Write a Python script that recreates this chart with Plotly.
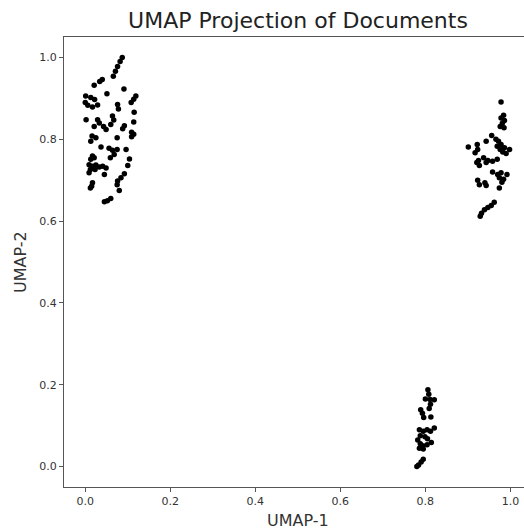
import plotly.graph_objects as go

# 2-D UMAP embedding of the document collection, one list pair per cluster
cluster_a_x = [0.087, 0.082, 0.076, 0.071, 0.066, 0.040, 0.034, 0.021, 0.091, 0.051,
               0.001, 0.013, 0.022, 0.000, 0.006, 0.017, 0.029, 0.119, 0.114, 0.108,
               0.076, 0.078, 0.115, 0.002, 0.029, 0.033, 0.064, 0.067, 0.060, 0.114,
               0.092, 0.043, 0.049, 0.088, 0.109, 0.114, 0.109, 0.016, 0.025, 0.013,
               0.075, 0.037, 0.056, 0.064, 0.075, 0.096, 0.017, 0.021, 0.013, 0.059,
               0.104, 0.009, 0.017, 0.025, 0.033, 0.041, 0.049, 0.012, 0.023, 0.100,
               0.045, 0.092, 0.084, 0.009, 0.076, 0.075, 0.017, 0.015, 0.012, 0.080,
               0.045, 0.052, 0.060, 0.068, 0.021]
cluster_a_y = [1.000, 0.990, 0.978, 0.966, 0.954, 0.946, 0.941, 0.932, 0.923, 0.911,
               0.906, 0.902, 0.897, 0.890, 0.883, 0.879, 0.884, 0.906, 0.898, 0.890,
               0.885, 0.874, 0.866, 0.848, 0.848, 0.840, 0.857, 0.847, 0.836, 0.842,
               0.833, 0.831, 0.824, 0.826, 0.817, 0.812, 0.806, 0.808, 0.804, 0.795,
               0.804, 0.781, 0.778, 0.773, 0.775, 0.775, 0.759, 0.755, 0.751, 0.755,
               0.752, 0.738, 0.734, 0.737, 0.732, 0.734, 0.730, 0.726, 0.726, 0.736,
               0.714, 0.716, 0.706, 0.718, 0.698, 0.689, 0.694, 0.685, 0.681, 0.675,
               0.647, 0.650, 0.655, 0.763, 0.831]

cluster_b_x = [0.978, 0.984, 0.978, 0.986, 0.981, 0.976, 0.985, 0.956, 0.943, 0.966,
               0.972, 0.978, 0.969, 0.986, 0.976, 0.982, 0.990, 0.998, 0.901, 0.922,
               0.923, 0.917, 0.937, 0.947, 0.958, 0.969, 0.925, 0.921, 0.927, 0.943,
               0.958, 0.970, 0.978, 0.992, 0.974, 0.984, 0.980, 0.923, 0.927, 0.940,
               0.943, 0.974, 0.962, 0.955, 0.947, 0.939, 0.932, 0.929]
cluster_b_y = [0.891, 0.859, 0.852, 0.846, 0.839, 0.831, 0.828, 0.809, 0.795, 0.800,
               0.795, 0.787, 0.783, 0.779, 0.775, 0.769, 0.765, 0.775, 0.781, 0.787,
               0.775, 0.767, 0.755, 0.748, 0.746, 0.751, 0.748, 0.743, 0.736, 0.743,
               0.720, 0.714, 0.718, 0.714, 0.706, 0.702, 0.695, 0.700, 0.689, 0.694,
               0.687, 0.681, 0.646, 0.638, 0.633, 0.628, 0.619, 0.612]

cluster_c_x = [0.806, 0.808, 0.800, 0.811, 0.821, 0.812, 0.809, 0.789, 0.793, 0.796,
               0.813, 0.786, 0.795, 0.804, 0.812, 0.821, 0.788, 0.799, 0.805, 0.782,
               0.788, 0.794, 0.804, 0.814, 0.786, 0.795, 0.795, 0.790, 0.784, 0.780]
cluster_c_y = [0.188, 0.177, 0.165, 0.164, 0.163, 0.152, 0.142, 0.139, 0.130, 0.120,
               0.121, 0.090, 0.086, 0.090, 0.086, 0.094, 0.075, 0.073, 0.068, 0.065,
               0.056, 0.051, 0.053, 0.059, 0.045, 0.043, 0.018, 0.011, 0.004, 0.000]

tick_vals = [0.0, 0.2, 0.4, 0.6, 0.8, 1.0]
tick_text = ["0.0", "0.2", "0.4", "0.6", "0.8", "1.0"]

FONT = "DejaVu Sans"
AXIS_COLOR = "#555555"
TEXT_COLOR = "#333333"

fig = go.Figure()
for xs, ys in [(cluster_a_x, cluster_a_y), (cluster_b_x, cluster_b_y), (cluster_c_x, cluster_c_y)]:
    fig.add_trace(go.Scatter(
        x=xs, y=ys, mode="markers",
        marker=dict(color="black", size=5.5, line=dict(width=0)),
        showlegend=False, hoverinfo="skip",
    ))

axis_common = dict(
    tickvals=tick_vals, ticktext=tick_text,
    ticks="outside", ticklen=4, tickwidth=1, tickcolor=AXIS_COLOR,
    showgrid=False, zeroline=False,
    showline=True, linecolor=AXIS_COLOR, linewidth=1,
    tickfont=dict(family=FONT, size=11, color=TEXT_COLOR),
)

fig.update_xaxes(range=[-0.05, 1.032], mirror=True, **axis_common)
fig.update_yaxes(range=[-0.05, 1.05], mirror=False, **axis_common)

fig.update_layout(
    width=524, height=531, autosize=False,
    margin=dict(l=64, r=0, t=37, b=44),
    plot_bgcolor="white", paper_bgcolor="white",
    title=dict(
        text="UMAP Projection of Documents",
        font=dict(family=FONT, size=22, color="#222222"),
        xref="container", x=298 / 524, xanchor="center",
        yref="container", y=1 - 20.5 / 531, yanchor="middle",
    ),
    annotations=[
        dict(text="UMAP-1", xref="paper", yref="paper",
             x=(298 - 64) / 460, y=(487 - 520) / 450,
             xanchor="center", yanchor="middle", showarrow=False,
             font=dict(family=FONT, size=16, color=TEXT_COLOR)),
        dict(text="UMAP-2", xref="paper", yref="paper",
             x=(20 - 64) / 460, y=0.5, textangle=-90,
             xanchor="center", yanchor="middle", showarrow=False,
             font=dict(family=FONT, size=16, color=TEXT_COLOR)),
    ],
)

fig.write_html("out.html")
